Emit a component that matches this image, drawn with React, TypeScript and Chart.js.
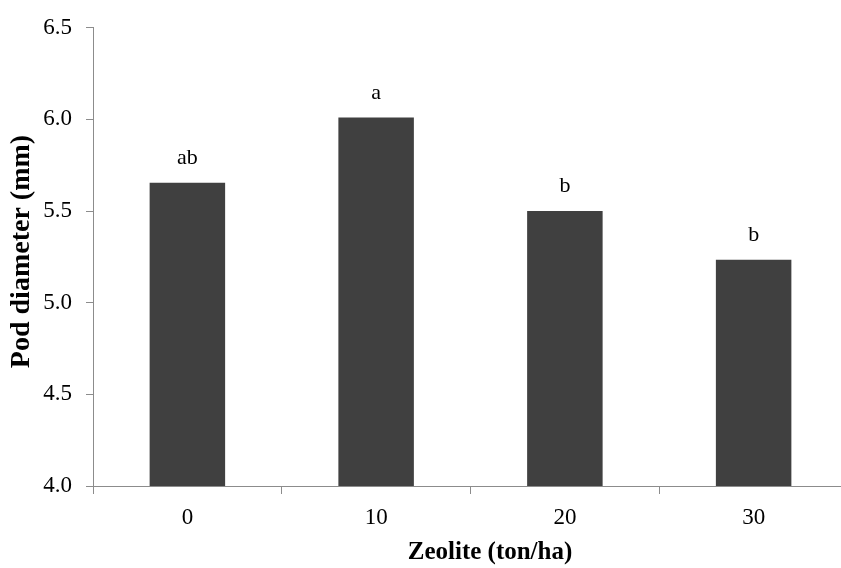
import { useEffect, useRef } from 'react';
import { Chart, registerables } from 'chart.js';

Chart.register(...registerables);

const categories = ['0', '10', '20', '30'];
const podDiameter = [5.655, 6.01, 5.5, 5.235];
const sigLetters = ['ab', 'a', 'b', 'b'];
const yMin = 4.0;
const yMax = 6.5;
const yStep = 0.5;
const xTitle = 'Zeolite (ton/ha)';
const yTitle = 'Pod diameter (mm)';

const FONT = '"Liberation Serif", "Times New Roman", serif';
const AXIS_COLOR = '#8c8c8c';
const BAR_COLOR = '#404040';

const annotationPlugin = {
  id: 'annotations',
  afterDraw(chart: any) {
    const ctx = chart.ctx;
    const meta = chart.getDatasetMeta(0);
    ctx.save();
    ctx.fillStyle = '#000';
    ctx.textAlign = 'center';
    ctx.textBaseline = 'alphabetic';
    ctx.font = `22px ${FONT}`;
    meta.data.forEach((bar: any, i: number) => {
      ctx.fillText(sigLetters[i], bar.x, bar.y - 19);
    });
    // x axis title
    ctx.font = `bold 25px ${FONT}`;
    ctx.textBaseline = 'middle';
    ctx.fillText(xTitle, 490, 553);
    // y axis title
    ctx.translate(22, 251.5);
    ctx.rotate(-Math.PI / 2);
    ctx.font = `bold 28px ${FONT}`;
    ctx.fillText(yTitle, 0, 0);
    ctx.restore();
  },
};

export default function App() {
  const ref = useRef<HTMLCanvasElement | null>(null);
  useEffect(() => {
    if (!ref.current) return;
    const chart = new Chart(ref.current, {
      type: 'bar',
      data: {
        labels: categories,
        datasets: [
          {
            data: podDiameter,
            backgroundColor: BAR_COLOR,
            borderWidth: 0,
            categoryPercentage: 1,
            barPercentage: 0.4,
          },
        ],
      },
      options: {
        responsive: false,
        animation: false,
        devicePixelRatio: 1,
        layout: { padding: { top: 25, right: 12, left: 0, bottom: 0 } },
        plugins: {
          legend: { display: false },
          tooltip: { enabled: false },
        },
        scales: {
          x: {
            grid: {
              offset: true,
              drawOnChartArea: false,
              drawTicks: true,
              tickLength: 8,
              color: AXIS_COLOR,
            },
            border: { display: true, color: AXIS_COLOR, width: 1 },
            ticks: {
              color: '#000',
              font: { family: FONT, size: 23 },
              padding: 10,
              maxRotation: 0,
            },
            afterFit(scale: any) {
              scale.height = 82;
            },
          },
          y: {
            min: yMin,
            max: yMax,
            grid: {
              drawOnChartArea: false,
              drawTicks: true,
              tickLength: 7,
              color: AXIS_COLOR,
            },
            border: { display: true, color: AXIS_COLOR, width: 1 },
            ticks: {
              stepSize: yStep,
              color: '#000',
              font: { family: FONT, size: 23 },
              padding: 14,
              callback: (v: any) => Number(v).toFixed(1),
            },
            afterFit(scale: any) {
              scale.width = 93;
            },
          },
        },
      },
      plugins: [annotationPlugin],
    });
    return () => chart.destroy();
  }, []);

  return (
    <div
      style={{
        position: 'fixed',
        left: 0,
        top: 0,
        width: 841,
        height: 568,
        overflow: 'hidden',
        background: '#fff',
      }}
    >
      <canvas ref={ref} width={860} height={568} style={{ display: 'block' }} />
    </div>
  );
}
